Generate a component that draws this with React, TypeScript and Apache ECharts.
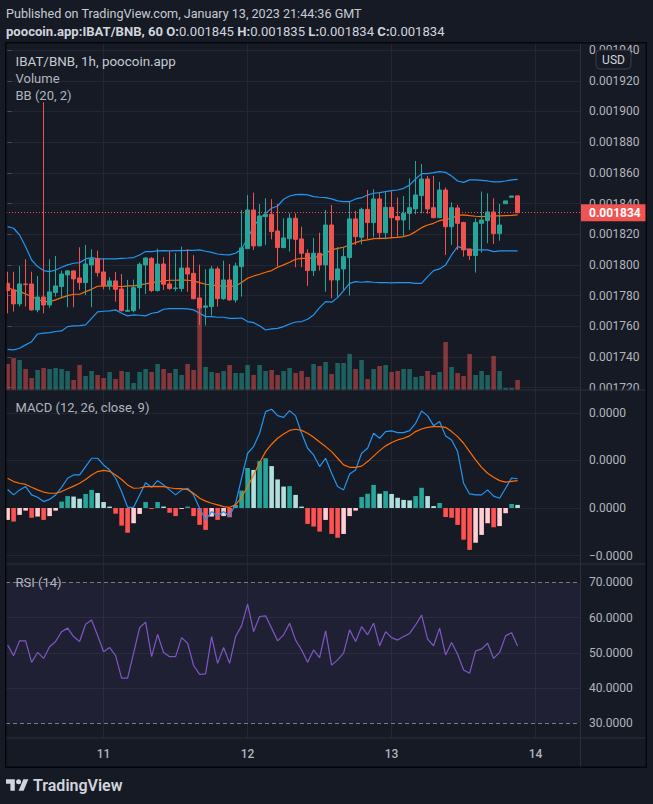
import React, { useEffect, useRef } from "react";
import * as echarts from "echarts";

// Hourly bars, Jan 10 08:00 -> Jan 13 21:00 GMT. Prices in millionths of BNB (1788.0 = 0.0017880).
const dayTicks = [16, 40, 64, 88];
const dayLabels = ["11", "12", "13", "14"];
const priceTicks = [1720, 1740, 1760, 1780, 1800, 1820, 1840, 1860, 1880, 1900, 1920, 1940];
const lastPrice = 1834;
const macdTicks = [-2, 0, 2, 4];
const rsiLabelTicks = [30, 40, 50, 60, 70];
const rsiGridTicks = [40, 50, 60];
const rsiBands = [30, 70];
const headerValues = ["0.001845", "0.001835", "0.001834", "0.001834"];

const open = [
  1788.0, 1783.7, 1774.6, 1787.6, 1787.6, 1770.7, 1779.1, 1773.9, 1782.0, 1785.9,
  1793.5, 1796.1, 1791.5, 1788.5, 1800.0, 1804.1, 1795.4, 1786.3, 1789.6, 1784.3,
  1769.8, 1770.2, 1785.2, 1800.0, 1804.3, 1783.3, 1800.6, 1787.6, 1784.6, 1784.6,
  1798.0, 1794.5, 1778.5, 1772.4, 1772.9, 1797.4, 1778.0, 1790.2, 1777.2, 1798.9,
  1810.6, 1835.8, 1812.4, 1831.5, 1833.0, 1822.1, 1811.3, 1817.1, 1830.4, 1816.9,
  1807.6, 1796.3, 1807.6, 1800.0, 1826.0, 1790.2, 1797.4, 1804.8, 1830.0, 1818.0,
  1836.2, 1827.6, 1843.0, 1821.0, 1837.5, 1831.5, 1829.3, 1833.6, 1836.5, 1845.2,
  1856.0, 1837.3, 1830.8, 1848.8, 1824.9, 1837.1, 1827.6, 1810.4, 1806.1, 1827.1,
  1828.9, 1834.5, 1820.4, 1839.9, 1844.1, 1845.0,
];
const close = [
  1783.3, 1774.6, 1787.6, 1787.2, 1770.7, 1779.1, 1773.9, 1782.4, 1786.3, 1794.1,
  1796.1, 1790.9, 1788.5, 1800.6, 1804.1, 1795.0, 1786.3, 1789.6, 1784.1, 1770.2,
  1770.4, 1785.2, 1800.4, 1804.5, 1783.3, 1800.6, 1787.4, 1784.6, 1785.0, 1798.0,
  1794.1, 1778.0, 1772.0, 1773.3, 1797.4, 1778.0, 1790.2, 1777.2, 1799.3, 1811.1,
  1835.8, 1812.4, 1831.9, 1833.0, 1821.7, 1811.3, 1817.6, 1830.4, 1816.7, 1807.6,
  1796.3, 1807.6, 1800.0, 1826.0, 1790.2, 1797.4, 1805.4, 1830.0, 1818.4, 1836.2,
  1827.6, 1843.0, 1821.0, 1837.5, 1830.8, 1829.3, 1833.6, 1837.3, 1845.6, 1856.0,
  1836.5, 1830.8, 1848.8, 1824.9, 1837.3, 1827.1, 1809.8, 1806.1, 1827.6, 1829.3,
  1834.5, 1820.4, 1826.0, 1841.7, 1844.9, 1834.0,
];
const low = [
  1768.5, 1769.6, 1772.9, 1772.9, 1770.2, 1769.1, 1768.5, 1772.0, 1779.3, 1778.3,
  1772.4, 1772.4, 1783.7, 1780.4, 1772.4, 1792.4, 1784.1, 1783.7, 1776.1, 1769.6,
  1769.4, 1769.1, 1771.3, 1781.1, 1782.2, 1782.6, 1783.7, 1783.7, 1782.8, 1782.6,
  1782.6, 1777.6, 1760.9, 1760.5, 1767.0, 1772.9, 1777.2, 1776.7, 1775.4, 1779.3,
  1810.6, 1809.8, 1812.4, 1813.0, 1816.7, 1798.9, 1810.8, 1808.7, 1798.5, 1798.5,
  1786.3, 1792.8, 1796.3, 1782.6, 1778.3, 1779.3, 1783.7, 1780.0, 1813.0, 1813.4,
  1816.7, 1818.0, 1816.7, 1816.7, 1817.3, 1818.4, 1818.4, 1822.8, 1833.0, 1833.6,
  1833.2, 1830.4, 1830.4, 1806.5, 1813.0, 1809.8, 1805.4, 1803.2, 1795.0, 1808.0,
  1814.1, 1813.7, 1815.8, 1839.9, 1844.1, 1834.0,
];
const high = [
  1795.6, 1795.6, 1799.3, 1803.7, 1795.6, 1792.8, 1905.9, 1803.7, 1805.8, 1796.3,
  1796.7, 1796.3, 1811.5, 1813.0, 1810.2, 1809.3, 1804.1, 1792.0, 1795.4, 1794.1,
  1790.2, 1790.4, 1801.5, 1805.0, 1805.0, 1810.6, 1805.0, 1808.9, 1807.6, 1811.9,
  1810.2, 1806.3, 1800.2, 1797.2, 1799.3, 1798.9, 1802.8, 1800.6, 1801.5, 1835.8,
  1845.6, 1847.1, 1839.7, 1843.4, 1842.8, 1839.7, 1830.4, 1833.6, 1833.6, 1824.9,
  1810.2, 1817.6, 1821.0, 1835.8, 1839.1, 1811.5, 1811.9, 1841.2, 1835.2, 1837.3,
  1848.8, 1849.3, 1847.1, 1847.3, 1848.0, 1843.9, 1844.9, 1856.4, 1867.7, 1865.8,
  1858.0, 1858.0, 1854.1, 1850.4, 1840.8, 1839.1, 1828.2, 1810.6, 1830.4, 1847.8,
  1846.7, 1843.4, 1839.7, 1841.7, 1844.9, 1845.0,
];
const volume = [
  26, 32, 30, 21, 12, 20, 22, 21, 22, 21,
  19, 10, 25, 14, 19, 15, 12, 18, 11, 19,
  18, 7, 18, 21, 18, 26, 21, 17, 21, 15,
  26, 20, 83, 23, 18, 17, 19, 25, 17, 17,
  25, 15, 25, 19, 20, 15, 19, 22, 17, 19,
  13, 26, 24, 28, 16, 27, 27, 36, 21, 30,
  11, 21, 24, 25, 18, 19, 21, 21, 13, 14,
  19, 15, 18, 48, 23, 17, 14, 36, 15, 19,
  15, 34, 19, 2, 2, 10,
];
const bbUpper = [
  1825.0, 1823.9, 1819.5, 1811.9, 1803.2, 1798.9, 1796.3, 1795.6, 1796.7, 1798.5,
  1800.0, 1801.1, 1801.5, 1803.9, 1804.8, 1803.9, 1803.9, 1803.9, 1803.9, 1804.3,
  1804.5, 1804.8, 1806.5, 1808.7, 1808.7, 1809.1, 1809.3, 1809.1, 1809.3, 1809.3,
  1809.5, 1809.5, 1809.8, 1808.9, 1808.2, 1807.1, 1806.7, 1806.5, 1807.6, 1810.4,
  1817.3, 1825.0, 1830.4, 1833.6, 1836.9, 1838.4, 1842.8, 1844.9, 1845.8, 1846.0,
  1845.6, 1844.5, 1844.1, 1843.8, 1843.0, 1841.7, 1841.2, 1841.2, 1843.0, 1843.8,
  1845.6, 1846.7, 1847.1, 1847.8, 1848.4, 1848.8, 1849.9, 1852.0, 1856.0, 1859.5,
  1859.5, 1860.1, 1860.8, 1860.3, 1857.9, 1854.7, 1853.8, 1855.4, 1855.4, 1855.1,
  1854.7, 1854.1, 1854.1, 1854.7, 1855.4, 1855.8,
];
const bbBasis = [
  1785.4, 1783.7, 1782.6, 1781.1, 1779.4, 1777.6, 1776.1, 1776.1, 1777.2, 1778.7,
  1780.0, 1780.9, 1780.9, 1782.6, 1784.1, 1786.1, 1786.3, 1786.3, 1786.1, 1785.9,
  1786.3, 1786.3, 1787.0, 1787.6, 1788.5, 1788.9, 1789.6, 1790.0, 1790.0, 1790.2,
  1790.0, 1789.6, 1788.5, 1787.4, 1787.0, 1786.3, 1786.3, 1785.9, 1786.3, 1788.5,
  1791.3, 1792.8, 1793.9, 1795.2, 1796.3, 1798.5, 1800.0, 1801.7, 1803.7, 1804.3,
  1804.3, 1804.8, 1805.8, 1807.6, 1809.8, 1810.8, 1811.5, 1813.0, 1814.5, 1815.8,
  1816.3, 1817.1, 1817.3, 1817.3, 1817.8, 1818.0, 1818.4, 1819.5, 1821.7, 1824.3,
  1826.0, 1827.1, 1828.9, 1829.7, 1830.4, 1832.3, 1832.6, 1832.1, 1831.7, 1831.5,
  1831.7, 1831.9, 1831.9, 1832.1, 1832.3, 1832.6,
];
const bbLower = [
  1745.0, 1744.6, 1745.7, 1747.9, 1750.0, 1755.0, 1755.5, 1755.9, 1756.6, 1757.0,
  1759.8, 1760.3, 1760.5, 1760.9, 1765.2, 1769.4, 1769.8, 1770.0, 1770.7, 1768.5,
  1766.8, 1767.4, 1767.2, 1766.8, 1768.5, 1769.1, 1771.1, 1771.5, 1771.5, 1771.5,
  1771.3, 1770.7, 1768.5, 1766.3, 1766.3, 1765.9, 1765.9, 1765.2, 1765.2, 1765.4,
  1763.1, 1762.4, 1760.3, 1757.6, 1758.3, 1758.7, 1759.8, 1761.5, 1762.8, 1763.1,
  1764.6, 1767.4, 1772.2, 1776.1, 1775.7, 1778.7, 1783.3, 1788.0, 1789.1, 1788.7,
  1789.1, 1788.7, 1788.5, 1788.5, 1788.3, 1788.5, 1788.5, 1788.5, 1788.0, 1788.0,
  1792.4, 1796.3, 1797.4, 1800.0, 1806.5, 1811.9, 1810.8, 1809.8, 1809.8, 1809.8,
  1809.8, 1808.7, 1809.1, 1809.1, 1809.1, 1809.1,
];
// MACD values in millionths
const macd = [
  0.78, 0.55, 0.76, 0.90, 0.55, 0.45, 0.27, 0.36, 0.55, 0.87,
  1.25, 1.39, 1.39, 1.74, 2.09, 2.09, 1.81, 1.60, 1.25, 0.69,
  0.03, 0.03, 0.55, 1.06, 0.87, 1.15, 0.97, 0.76, 0.55, 0.76,
  0.83, 0.55, -0.01, -0.50, -0.15, -0.34, -0.15, -0.36, 0.20, 1.25,
  2.30, 2.58, 3.14, 4.05, 4.15, 3.88, 3.81, 4.09, 3.87, 3.14,
  2.51, 2.23, 1.74, 2.09, 1.46, 0.90, 0.76, 1.43, 1.60, 2.30,
  2.51, 3.14, 2.93, 3.21, 3.24, 3.17, 3.17, 3.25, 3.56, 4.08,
  3.87, 3.46, 3.63, 3.03, 2.86, 2.37, 1.04, 0.59, 0.55, 0.55,
  0.76, 0.50, 0.41, 0.83, 1.26, 1.23,
];
const signal = [
  1.25, 1.11, 1.04, 0.99, 0.87, 0.76, 0.67, 0.62, 0.62, 0.69,
  0.81, 0.92, 1.04, 1.20, 1.39, 1.53, 1.58, 1.54, 1.39, 1.20,
  0.97, 0.83, 0.84, 0.90, 0.90, 0.91, 0.90, 0.85, 0.81, 0.81,
  0.77, 0.62, 0.41, 0.29, 0.20, 0.13, 0.06, 0.03, 0.13, 0.45,
  0.90, 1.39, 1.90, 2.37, 2.68, 2.93, 3.11, 3.26, 3.31, 3.26,
  3.14, 2.97, 2.77, 2.58, 2.37, 2.09, 1.81, 1.71, 1.71, 1.76,
  1.95, 2.18, 2.41, 2.61, 2.75, 2.86, 2.93, 3.03, 3.21, 3.32,
  3.39, 3.42, 3.42, 3.39, 3.21, 3.00, 2.72, 2.37, 2.02, 1.71,
  1.46, 1.29, 1.15, 1.09, 1.12, 1.15,
];
const hist = [
  -0.50, -0.57, -0.29, -0.11, -0.41, -0.36, -0.50, -0.34, -0.11, 0.27,
  0.50, 0.48, 0.39, 0.59, 0.76, 0.63, 0.25, 0.06, -0.24, -0.74,
  -1.04, -0.64, -0.25, 0.25, -0.04, 0.25, 0.06, -0.20, -0.34, -0.04,
  0.06, -0.34, -0.71, -0.92, -0.36, -0.50, -0.34, -0.39, 0.13, 0.73,
  1.68, 1.60, 1.97, 2.09, 1.76, 1.20, 0.90, 0.92, 0.55, 0.06,
  -0.67, -0.78, -0.99, -0.50, -1.09, -1.25, -1.09, -0.34, -0.11, 0.46,
  0.60, 0.97, 0.60, 0.71, 0.59, 0.43, 0.34, 0.32, 0.50, 0.85,
  0.50, 0.08, 0.21, -0.38, -0.41, -0.71, -1.33, -1.76, -1.46, -1.13,
  -0.64, -0.81, -0.76, -0.22, 0.17, 0.13,
];
const rsi = [
  52.2, 49.2, 53.4, 53.4, 47.3, 50.1, 48.4, 51.7, 53.2, 56.0,
  57.0, 54.6, 53.2, 58.1, 59.3, 54.9, 50.3, 51.5, 49.2, 42.8,
  42.8, 49.9, 57.1, 58.7, 48.9, 55.2, 50.1, 48.9, 48.9, 54.3,
  52.7, 46.4, 43.9, 44.0, 54.6, 47.0, 51.5, 47.0, 54.6, 57.7,
  63.8, 56.0, 60.3, 60.5, 57.0, 53.4, 55.1, 58.4, 53.6, 50.8,
  47.3, 50.8, 48.6, 56.2, 46.5, 48.0, 49.9, 56.5, 53.2, 57.4,
  55.1, 58.4, 52.0, 56.0, 54.3, 53.6, 54.6, 55.5, 57.9, 60.7,
  53.9, 52.0, 57.0, 49.4, 52.9, 49.6, 45.1, 44.2, 50.5, 51.1,
  52.7, 48.4, 50.1, 54.8, 55.7, 51.9,
];

const TV_LOGO =
  "M14 22H7V11H0V4h14v18zM28 22h-8l7.5-18h8L28 22zM24 8a4 4 0 1 1-8 0a4 4 0 1 1 8 0z";
echarts.graphic.registerShape("tvlogo", echarts.graphic.extendPath(TV_LOGO, {}));

const BG = "#161a25";
const GRIDC = "#232733";
const DIV = "#2c303b";
const TXT = "#b2b5be";
const FONT = "Roboto, 'Noto Sans', 'DejaVu Sans', sans-serif";
const UP = "#26a69a";
const DOWN = "#ef5350";
const XMIN = -0.2667;
const XMAX = 95.4;
const L = 6;
const W = 574;

const idx = (arr: number[]) => arr.map((v, i) => [i, v]);

function xAxis(gridIndex: number, labels: boolean, split: boolean) {
  return {
    type: "value",
    gridIndex,
    min: XMIN,
    max: XMAX,
    axisLine: { show: false },
    axisTick: { show: false, customValues: dayTicks },
    axisLabel: labels
      ? {
          show: true,
          customValues: dayTicks,
          formatter: (v: number) => dayLabels[dayTicks.indexOf(Math.round(v))] ?? "",
          color: TXT,
          fontSize: 12,
          fontWeight: 500,
          fontFamily: FONT,
          margin: 10,
        }
      : { show: false },
    splitLine: { show: split, lineStyle: { color: GRIDC, width: 1 } },
  };
}

function text(x: number, y: number, t: string, size = 13, color = TXT, weight: any = "normal") {
  return {
    type: "text",
    x,
    y,
    z: 120,
    silent: true,
    style: {
      text: t,
      fill: color,
      fontSize: size,
      fontFamily: FONT,
      fontWeight: weight,
      textAlign: "left",
      textVerticalAlign: "middle",
    },
  };
}

function hLine(y: number, x1: number, x2: number, color = DIV) {
  return { type: "line", z: 110, silent: true, shape: { x1, y1: y, x2, y2: y }, style: { stroke: color, lineWidth: 1 } };
}

function buildOption() {
  const histData = hist.map((h, i) => {
    const prev = i === 0 ? -Infinity : hist[i - 1];
    const c = h >= 0 ? (prev < h ? "#26a69a" : "#b2dfdb") : prev < h ? "#ffcdd2" : "#ff5252";
    return { value: [i, h], itemStyle: { color: c } };
  });
  const headerRich =
    "{b|poocoin.app:IBAT/BNB, 60 O:}{n|" + headerValues[0] + "}{b| H:}{n|" + headerValues[1] +
    "}{b| L:}{n|" + headerValues[2] + "}{b| C:}{n|" + headerValues[3] + "}";

  return {
    animation: false,
    backgroundColor: BG,
    textStyle: { fontFamily: FONT },
    grid: [
      { left: L, top: 43, width: W, height: 347 },
      { left: L, top: 290, width: W, height: 100 },
      { left: L, top: 390, width: W, height: 174 },
      { left: L, top: 564, width: W, height: 174 },
    ],
    xAxis: [xAxis(0, false, true), xAxis(1, false, false), xAxis(2, false, true), xAxis(3, true, true)],
    yAxis: [
      {
        type: "value",
        gridIndex: 0,
        position: "right",
        min: 1718.5,
        max: 1944.6,
        axisLine: { show: false },
        axisTick: { show: true, length: 4, customValues: priceTicks, lineStyle: { color: "#4a4e59" } },
        axisLabel: {
          customValues: priceTicks,
          formatter: (v: number) => (v / 1e6).toFixed(6),
          color: TXT,
          fontSize: 12,
          fontFamily: FONT,
          margin: 9,
        },
        splitLine: { show: true, lineStyle: { color: GRIDC } },
      },
      { type: "value", gridIndex: 1, min: 0, max: 100, show: false, splitLine: { show: false } },
      {
        type: "value",
        gridIndex: 2,
        position: "right",
        min: -2.353,
        max: 4.958,
        axisLine: { show: false },
        axisTick: { show: false, customValues: macdTicks },
        axisLabel: {
          customValues: macdTicks,
          formatter: (v: number) => (v < 0 ? "\u2212" : "") + Math.abs(v / 1e6).toFixed(4),
          color: TXT,
          fontSize: 12,
          fontFamily: FONT,
          margin: 9,
        },
        splitLine: { show: true, lineStyle: { color: GRIDC } },
      },
      {
        type: "value",
        gridIndex: 3,
        position: "right",
        min: 25.83,
        max: 75.19,
        axisLine: { show: false },
        axisTick: { show: false, customValues: rsiGridTicks },
        axisLabel: {
          customValues: rsiLabelTicks,
          formatter: (v: number) => v.toFixed(4),
          color: TXT,
          fontSize: 12,
          fontFamily: FONT,
          margin: 9,
        },
        splitLine: { show: true, lineStyle: { color: GRIDC } },
      },
    ],
    series: [
      {
        type: "bar",
        name: "Volume",
        xAxisIndex: 1,
        yAxisIndex: 1,
        barWidth: 4.6,
        z: 1,
        silent: true,
        data: volume.map((v, i) => ({
          value: [i, v],
          itemStyle: { color: close[i] >= open[i] ? "rgba(38,166,154,0.5)" : "rgba(239,83,80,0.5)" },
        })),
      },
      {
        type: "line",
        xAxisIndex: 0,
        yAxisIndex: 0,
        stack: "bb",
        symbol: "none",
        z: 1,
        silent: true,
        lineStyle: { opacity: 0 },
        data: idx(bbLower),
      },
      {
        type: "line",
        xAxisIndex: 0,
        yAxisIndex: 0,
        stack: "bb",
        symbol: "none",
        z: 1,
        silent: true,
        lineStyle: { opacity: 0 },
        areaStyle: { color: "rgba(33,150,243,0.06)", opacity: 1 },
        data: bbUpper.map((v, i) => [i, v - bbLower[i]]),
      },
      { type: "line", xAxisIndex: 0, yAxisIndex: 0, symbol: "none", z: 2, silent: true, lineStyle: { color: "#2196f3", width: 1.2 }, data: idx(bbUpper) },
      { type: "line", xAxisIndex: 0, yAxisIndex: 0, symbol: "none", z: 2, silent: true, lineStyle: { color: "#2196f3", width: 1.2 }, data: idx(bbLower) },
      { type: "line", xAxisIndex: 0, yAxisIndex: 0, symbol: "none", z: 2, silent: true, lineStyle: { color: "#ff6d00", width: 1.2 }, data: idx(bbBasis) },
      {
        type: "candlestick",
        xAxisIndex: 0,
        yAxisIndex: 0,
        z: 3,
        barWidth: 3.8,
        silent: true,
        itemStyle: { color: UP, color0: DOWN, borderColor: UP, borderColor0: DOWN, borderWidth: 1 },
        data: open.map((o, i) => [i, o, close[i], low[i], high[i]]),
        markLine: {
          silent: true,
          symbol: ["none", "none"],
          animation: false,
          data: [{ yAxis: lastPrice }],
          lineStyle: { color: DOWN, type: [1, 2], width: 1 },
          label: {
            show: true,
            position: "end",
            distance: 0,
            formatter: () => (lastPrice / 1e6).toFixed(6),
            backgroundColor: "#f05350",
            color: "#ffffff",
            fontWeight: "bold",
            fontSize: 12,
            fontFamily: FONT,
            padding: [3, 6, 2, 9],
          },
        },
      },
      { type: "bar", xAxisIndex: 2, yAxisIndex: 2, barWidth: 4.6, z: 2, silent: true, data: histData },
      { type: "line", xAxisIndex: 2, yAxisIndex: 2, symbol: "none", z: 3, silent: true, lineStyle: { color: "#2196f3", width: 1.2 }, data: idx(macd) },
      { type: "line", xAxisIndex: 2, yAxisIndex: 2, symbol: "none", z: 3, silent: true, lineStyle: { color: "#ff6d00", width: 1.2 }, data: idx(signal) },
      {
        type: "line",
        xAxisIndex: 3,
        yAxisIndex: 3,
        symbol: "none",
        z: 3,
        silent: true,
        lineStyle: { color: "#7e57c2", width: 1.2 },
        data: idx(rsi),
        markArea: {
          silent: true,
          itemStyle: { color: "rgba(126,87,194,0.1)" },
          data: [[{ yAxis: rsiBands[0] }, { yAxis: rsiBands[1] }]],
        },
        markLine: {
          silent: true,
          symbol: ["none", "none"],
          label: { show: false },
          lineStyle: { color: "#787b86", type: [4, 3], width: 1 },
          data: rsiBands.map((b) => ({ yAxis: b })),
        },
      },
    ],
    graphic: {
      elements: [
        { type: "rect", z: 105, silent: true, shape: { x: 581, y: 390.5, width: 64, height: 6 }, style: { fill: BG } },
        hLine(390, 6, 646),
        hLine(564, 6, 646),
        hLine(738, 6, 646),
        { type: "line", z: 110, silent: true, shape: { x1: 580.5, y1: 43, x2: 580.5, y2: 767 }, style: { stroke: DIV, lineWidth: 1 } },
        { type: "rect", z: 115, silent: true, shape: { x: 5.75, y: 42.75, width: 640.5, height: 724.5 }, style: { fill: "none", stroke: "#05060a", lineWidth: 1.5 } },
        { type: "rect", z: 120, silent: true, shape: { x: 596, y: 50, width: 35, height: 19, r: 4 }, style: { fill: BG, stroke: "#3a3e49", lineWidth: 1 } },
        {
          type: "text", x: 613.5, y: 59.5, z: 121, silent: true,
          style: { text: "USD", fill: "#d1d4dc", fontSize: 12, fontFamily: FONT, textAlign: "center", textVerticalAlign: "middle" },
        },
        text(6, 13, "Published on TradingView.com, January 13, 2023 21:44:36 GMT", 12.6, "#c8cbd3"),
        {
          type: "text", x: 6, y: 31, z: 120, silent: true,
          style: {
            text: headerRich,
            fill: "#d1d4dc",
            fontSize: 13,
            fontFamily: FONT,
            textAlign: "left",
            textVerticalAlign: "middle",
            rich: {
              b: { fill: "#d1d4dc", fontSize: 13.1, fontFamily: FONT, fontWeight: "bold" },
              n: { fill: "#d1d4dc", fontSize: 13.1, fontFamily: FONT, fontWeight: "normal" },
            },
          },
        },
        text(15.5, 61, "IBAT/BNB, 1h, poocoin.app", 13.4, "#c6c9d1"),
        text(15.5, 78, "Volume", 13, TXT),
        text(15.5, 95, "BB (20, 2)", 13, TXT),
        text(15.5, 407, "MACD (12, 26, close, 9)", 13, TXT),
        text(15.5, 582, "RSI (14)", 13, TXT),
        { type: "tvlogo", x: 6, y: 776.8, scaleX: 0.63, scaleY: 0.63, z: 120, silent: true, style: { fill: "#d1d4dc" } },
        text(33, 785.5, "TradingView", 16, "#d1d4dc", 600),
      ],
    },
  };
}

export default function App() {
  const ref = useRef<HTMLDivElement>(null);
  useEffect(() => {
    document.body.style.margin = "0";
    document.body.style.background = BG;
    const chart = echarts.init(ref.current as HTMLDivElement, null, { renderer: "svg" });
    chart.setOption(buildOption() as any);
    return () => chart.dispose();
  }, []);
  return (
    <div
      ref={ref}
      style={{ position: "fixed", left: 0, top: 0, width: 653, height: 804, background: BG }}
    />
  );
}
